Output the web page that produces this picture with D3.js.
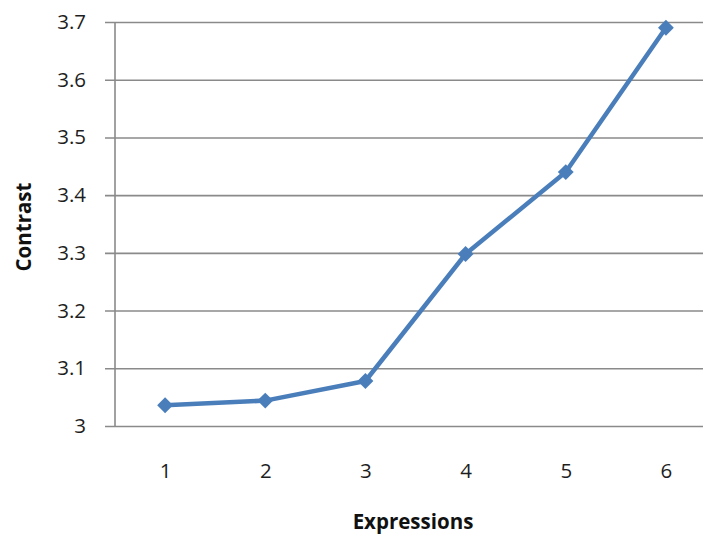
<!DOCTYPE html>
<html><head><meta charset="utf-8">
<script src="https://cdn.jsdelivr.net/npm/d3@7"></script>
<style>body{margin:0;background:#fff}svg{display:block}</style>
</head><body>
<svg id="c" width="703" height="534"></svg>
<script>
const categories = ["1","2","3","4","5","6"];
const values = [3.036, 3.044, 3.078, 3.298, 3.44, 3.69];
const yTicks = [3, 3.1, 3.2, 3.3, 3.4, 3.5, 3.6, 3.7];
const xTitle = "Expressions";
const yTitle = "Contrast";

(function () {
const svg = d3.select("#c");
const pLeft = 115, pRight = 716, pTop = 22, pBottom = 426;
const x = d3.scalePoint().domain(categories).range([pLeft, pRight]).padding(0.5);
const y = d3.scaleLinear().domain([3, 3.7]).range([pBottom, pTop]);
const font = "'Open Sans', 'Liberation Sans', sans-serif";
const fs = 20.5;

// gridlines
const yAxis = d3.axisLeft(y).tickValues(yTicks).tickFormat(d3.format("")).tickSize(-(pRight - pLeft)).tickPadding(29);
const gy = svg.append("g").attr("transform", `translate(${pLeft},0)`).call(yAxis);
gy.select(".domain").remove();
gy.selectAll(".tick line").attr("stroke", "#8a8a8a").attr("stroke-width", 1.6).attr("x1", -10);
gy.selectAll(".tick text").attr("font-family", font).attr("font-size", fs).attr("fill", "#1e1e1e");

// vertical axis line
svg.append("line").attr("x1", pLeft).attr("x2", pLeft).attr("y1", pTop).attr("y2", pBottom)
  .attr("stroke", "#8a8a8a").attr("stroke-width", 1.6);

// x axis labels
const xAxis = d3.axisBottom(x).tickSize(0).tickPadding(37);
const gx = svg.append("g").attr("transform", `translate(0,${pBottom})`).call(xAxis);
gx.select(".domain").remove();
gx.selectAll(".tick text").attr("font-family", font).attr("font-size", fs).attr("fill", "#1e1e1e");

// line
const line = d3.line().x((d, i) => x(categories[i])).y(d => y(d));
svg.append("path").datum(values).attr("d", line).attr("fill", "none")
  .attr("stroke", "#4a7ebb").attr("stroke-width", 4.5).attr("stroke-linejoin", "round");

svg.selectAll("path.m").data(values).enter().append("path").attr("class", "m")
  .attr("d", d3.symbol().type(d3.symbolDiamond2).size(160))
  .attr("transform", (d, i) => `translate(${x(categories[i])},${y(d)})`)
  .attr("fill", "#4a7ebb");

// titles
svg.append("text").attr("x", 413).attr("y", 529).attr("text-anchor", "middle")
  .attr("font-family", font).attr("font-size", fs).attr("font-weight", "bold").attr("fill", "#111").text(xTitle);
svg.append("text").attr("transform", "translate(31,227) rotate(-90)").attr("text-anchor", "middle")
  .attr("font-family", font).attr("font-size", fs).attr("font-weight", "bold").attr("fill", "#111").text(yTitle);
})();
</script>
</body></html>
